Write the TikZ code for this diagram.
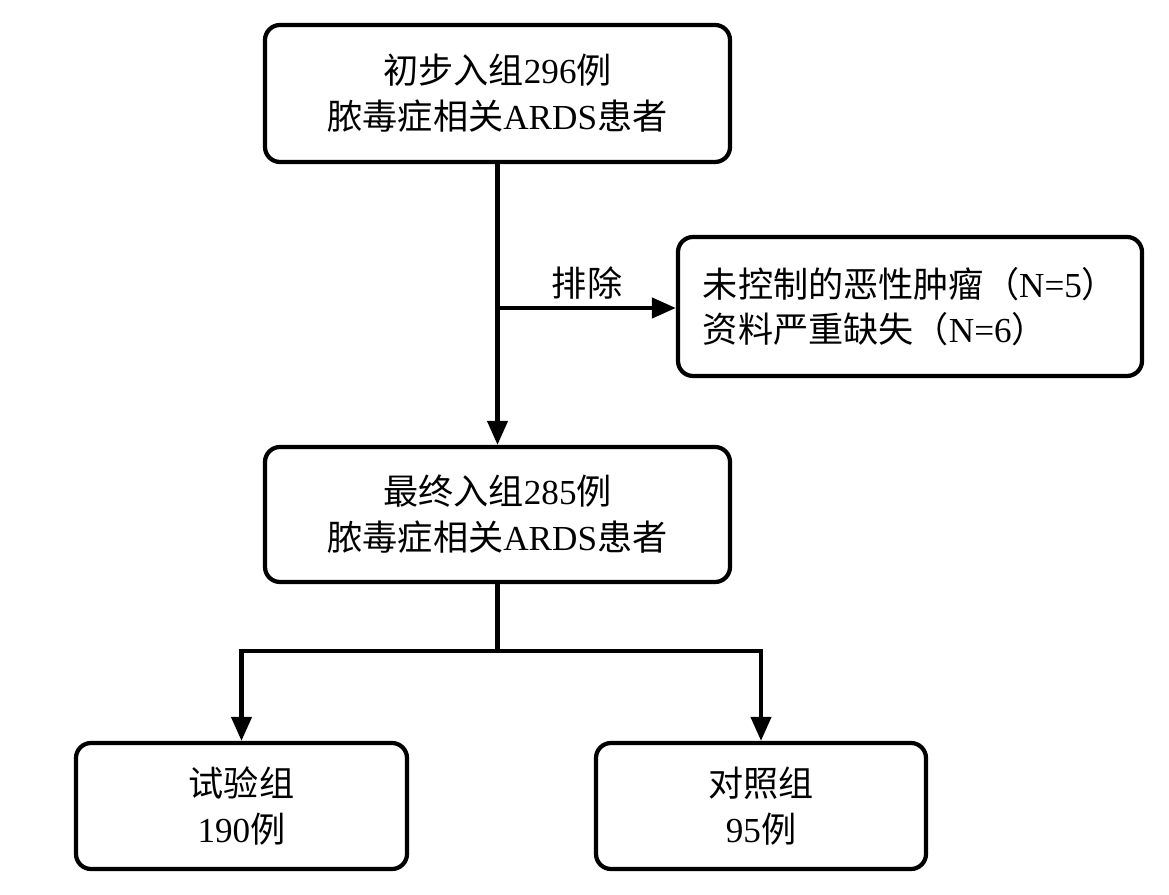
\documentclass[tikz,border=0pt]{standalone}
\usepackage{fontspec}
\setmainfont{Liberation Serif}
\newfontfamily\cjk{Noto Sans CJK SC}
\usetikzlibrary{arrows.meta}
\tikzset{
	box/.style={draw, line width=1.2pt, rounded corners=0.15cm, align=center, inner sep=0pt, font=\fontsize{10}{13}\selectfont},
	link/.style={line width=1.2pt},
	arr/.style={link, -{Triangle[length=0.24cm,width=0.2cm]}}
}
\begin{document}
\begin{tikzpicture}
				\useasboundingbox (0,0) rectangle (11.69,8.95);
				\node[box, minimum width=4.65cm, minimum height=1.37cm] (start) at (4.975,8.015) {{\cjk 初步入组}296{\cjk 例}\\{\cjk 脓毒症相关}ARDS{\cjk 患者}};
				\node[box, align=left, minimum width=4.64cm, minimum height=1.39cm] (excl) at (9.10,5.885) {{\cjk 未控制的恶性肿瘤（}N=5{\cjk ）}\\{\cjk 资料严重缺失（}N=6{\cjk ）}};
				\node[box, minimum width=4.65cm, minimum height=1.35cm] (final) at (4.975,3.805) {{\cjk 最终入组}285{\cjk 例}\\{\cjk 脓毒症相关}ARDS{\cjk 患者}};
				\node[box, minimum width=3.31cm, minimum height=1.26cm] (test) at (2.415,0.89) {{\cjk 试验组}\\190{\cjk 例}};
				\node[box, minimum width=3.30cm, minimum height=1.26cm] (ctrl) at (7.61,0.89) {{\cjk 对照组}\\95{\cjk 例}};
				
				\coordinate (cut) at (4.975,5.87);
				\node[font=\fontsize{10}{13}\selectfont] (cutlabel) at (5.87,6.12) {{\cjk 排除}};
				\draw[arr] (start) -- (final);
				\draw[arr] (cut) -- (cut -| excl.west);
				
				\coordinate (fork) at (4.975,2.44);
				\draw[link] (final) -- (fork);
				\draw[arr] (fork) -| (test);
				\draw[arr] (fork) -| (ctrl);
\end{tikzpicture}
\end{document}
